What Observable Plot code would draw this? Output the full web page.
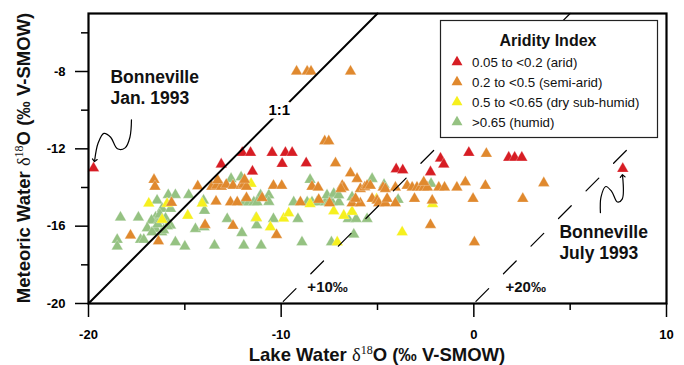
<!DOCTYPE html>
<html>
<head>
<meta charset="utf-8">
<script src="https://cdn.jsdelivr.net/npm/d3@7"></script>
<script src="https://cdn.jsdelivr.net/npm/@observablehq/plot@0.6"></script>
<style>
  html, body { margin: 0; padding: 0; background: white; }
  #chart svg { display: block; }
</style>
</head>
<body>
<div id="chart"></div>
<script>
// ---- Data ----
const categories = ["0.05 to <0.2 (arid)", "0.2 to <0.5 (semi-arid)", "0.5 to <0.65 (dry sub-humid)", ">0.65 (humid)"];
const categoryColors = ["#d71d24", "#e0892e", "#f6f01e", "#95c282"];

const xMajorTicks = [-20, -10, 0, 10];
const xMinorTicks = [-15, -5, 5];
const yMajorTicks = [-20, -16, -12, -8];
const yMinorTicks = [-18, -14, -10, -6];

const arid = [
  [-19.74,-13.0],[-13.11,-12.8],[-12.02,-12.2],[-11.59,-12.2],[-10.47,-12.2],[-9.78,-12.2],[-9.43,-12.2],
  [-9.95,-12.77],[-11.49,-13.17],[-8.7,-12.74],[-4.03,-13.05],[-3.69,-13.1],[-1.73,-12.5],[-1.56,-12.8],
  [-2.25,-13.2],[-0.26,-12.2],[1.81,-12.45],[2.12,-12.45],[2.49,-12.45],[7.73,-13.03]
];
const semiArid = [
  [-9.2,-8.0],[-8.65,-8.0],[-8.45,-8.0],[-6.4,-8.0],
  [-7.74,-11.6],[-7.53,-11.6],
  [-16.6,-13.6],[-16.55,-13.95],[-14.33,-13.93],[-15.69,-14.79],[-17.82,-16.48],[-16.37,-16.78],
  [-13.95,-15.93],[-12.5,-15.97],[-10.24,-16.45],
  [-13.38,-14.72],[-12.63,-14.76],[-12.28,-14.76],[-11.8,-14.54],[-10.99,-14.54],[-9.0,-14.76],
  [-13.6,-13.95],[-13.35,-13.9],[-13.1,-13.95],[-12.85,-13.85],[-12.5,-13.9],[-12.08,-13.9],[-11.95,-13.85],
  [-11.8,-13.95],[-13.3,-13.62],[-11.9,-13.6],
  [-10.4,-13.9],[-9.97,-13.9],
  [-8.4,-13.95],[-8.08,-14.0],
  [-7.18,-12.74],[-6.4,-13.26],[-6.06,-13.55],
  [-6.83,-13.9],[-6.75,-14.0],[-6.9,-14.07],
  [-5.89,-14.07],[-5.66,-13.98],[-5.54,-13.9],[-5.37,-13.9],
  [-4.71,-14.0],[-4.59,-14.07],[-4.07,-14.0],
  [-3.46,-13.9],[-3.2,-14.0],[-2.95,-14.0],[-2.77,-14.0],[-2.6,-14.0],[-2.41,-14.0],[-2.6,-13.72],
  [-1.82,-14.0],[-1.52,-14.0],[-0.88,-14.0],
  [-8.05,-14.63],[-7.49,-14.81],
  [-6.32,-14.81],[-5.89,-14.81],[-6.14,-14.58],
  [-5.28,-14.58],[-5.02,-14.67],[-4.94,-14.81],[-4.59,-14.81],[-4.5,-14.58],[-4.07,-14.81],
  [-3.08,-14.58],[-2.16,-14.67],
  [-0.44,-13.72],[0.6,-13.9],[0.65,-12.25],[-0.04,-14.58],[-2.25,-15.93],[0.03,-16.83],[3.63,-13.77],[2.54,-14.58]
];
const dryHumid = [
  [-16.87,-14.82],[-15.92,-14.84],[-14.1,-14.82],[-14.85,-15.45],[-16.18,-15.66],[-11.56,-13.8],
  [-11.28,-15.57],[-9.87,-15.6],[-9.61,-15.33],[-10.56,-16.05],[-8.5,-14.85],[-7.27,-15.23],
  [-6.75,-15.45],[-6.32,-15.25],[-7.09,-16.83],[-3.72,-16.31],[-5.05,-14.6],[-2.14,-14.85]
];
const humid = [
  [-18.51,-16.7],[-18.51,-17.05],[-18.34,-15.55],[-17.41,-15.55],[-17.3,-16.7],[-17.13,-16.7],[-16.52,-15.55],
  [-15.86,-14.38],[-15.49,-14.38],[-14.8,-14.38],[-16.44,-14.67],[-16.18,-15.1],[-15.74,-15.1],
  [-16.73,-15.7],[-16.35,-15.7],[-15.74,-15.96],[-14.45,-16.14],[-16.95,-16.1],[-16.52,-16.14],
  [-16.2,-16.31],[-16.7,-16.31],[-15.49,-16.83],[-15.0,-17.05],
  [-14.03,-14.67],[-13.98,-15.2],[-14.0,-16.05],
  [-16.3,-15.4],[-16.0,-15.6],[-15.9,-16.0],[-16.1,-16.2],[-16.4,-15.9],
  [-12.8,-15.62],[-12.04,-16.35],[-11.3,-15.57],[-10.4,-15.62],[-11.27,-15.95],[-11.04,-17.0],
  [-11.94,-17.0],[-13.46,-17.0],[-9.13,-15.62],[-8.92,-16.83],
  [-12.6,-13.55],[-12.08,-13.47],
  [-11.07,-14.4],[-10.64,-14.4],[-10.64,-14.74],[-11.94,-14.76],[-11.68,-14.76],[-11.42,-14.76],[-11.25,-14.76],
  [-9.35,-14.76],[-8.5,-13.6],
  [-8.65,-14.76],[-8.4,-14.76],[-8.14,-14.76],[-7.7,-14.76],[-7.53,-14.76],[-7.36,-14.76],[-7.0,-14.76],
  [-7.62,-14.4],[-7.27,-14.32],[-7.01,-14.4],[-6.32,-14.5],
  [-6.52,-15.62],[-6.11,-15.62],[-5.54,-15.62],[-6.23,-16.43],[-7.39,-16.83],
  [-5.28,-13.55],[-4.66,-13.85],[-3.93,-14.63],[-2.22,-13.8]
];

// reference lines (lake = meteoric + offset)
const oneToOne = [[-20,-20],[-5,-5]];
const plus10 = [[-10,-20],[5,-5]];
const plus20 = [[0,-20],[10,-10]];

// annotations
const notes = [
  {x: -18.86, y: -8.78, text: "Bonneville\nJan. 1993"},
  {x: 4.44, y: -16.79, text: "Bonneville\nJuly 1993"}
];
const lineLabels = [
  {x: -8.64, y: -19.17, text: "+10‰"},
  {x: 1.64, y: -19.17, text: "+20‰"}
];
const ratioLabel = [{x: -10.1, y: -10.0, text: "1:1"}];
const janArrow = [[-17.77,-10.5],[-17.85,-11.4],[-18.1,-11.95],[-18.5,-12.0],[-18.85,-11.4],[-19.2,-11.2],[-19.5,-11.7],[-19.68,-12.6]];
const julyArrow = [[6.57,-15.3],[6.6,-14.5],[6.85,-13.95],[7.15,-14.2],[7.45,-14.75],[7.7,-14.6],[7.72,-13.4]];

// ---- Build table (draw order: humid first, arid last) ----
const groups = [humid, dryHumid, semiArid, arid];
const groupCats = [categories[3], categories[2], categories[1], categories[0]];
const points = groups.flatMap((g, i) => g.map(([x, y]) => ({x, y, cat: groupCats[i]})));

const FONT = "'Liberation Sans', Arial, sans-serif";

const chart = Plot.plot({
  width: 684,
  height: 365,
  marginLeft: 88,
  marginRight: 18,
  marginTop: 13,
  marginBottom: 62,
  style: {fontFamily: FONT, background: "white", color: "black"},
  x: {domain: [-20, 10], label: null},
  y: {domain: [-20, -5], label: null},
  color: {domain: categories, range: categoryColors},
  marks: [
    Plot.axisX({ticks: xMajorTicks, tickSize: 14, tickPadding: 12, tickFormat: d => String(d), fontWeight: "bold", fontSize: 13, strokeWidth: 1.5, label: null}),
    Plot.axisX({ticks: xMinorTicks, tickSize: 7, tickFormat: () => "", strokeWidth: 1.5, label: null}),
    Plot.axisY({ticks: yMajorTicks, tickSize: 13, tickPadding: 10, tickFormat: d => String(d), fontWeight: "bold", fontSize: 13, strokeWidth: 1.5, label: null}),
    Plot.axisY({ticks: yMinorTicks, tickSize: 7, tickFormat: () => "", strokeWidth: 1.5, label: null}),
    Plot.dot(points, {x: "x", y: "y", symbol: "triangle", r: 4.3, fill: "cat", stroke: "#ffffff", strokeOpacity: 0.45, strokeWidth: 0.6}),
    Plot.line(oneToOne, {x: d => d[0], y: d => d[1], stroke: "black", strokeWidth: 2}),
    Plot.line(plus10, {x: d => d[0], y: d => d[1], stroke: "black", strokeWidth: 1.2, strokeDasharray: "18,21", strokeDashoffset: -3}),
    Plot.line(plus20, {x: d => d[0], y: d => d[1], stroke: "black", strokeWidth: 1.2, strokeDasharray: "18,21", strokeDashoffset: -3}),
    Plot.text(ratioLabel, {x: "x", y: "y", text: "text", fontWeight: "bold", fontSize: 15, fill: "black", stroke: "white", strokeWidth: 7, paintOrder: "stroke"}),
    Plot.text(notes, {x: "x", y: "y", text: "text", textAnchor: "start", fontWeight: "bold", fontSize: 17.5, lineHeight: 1.2, fill: "#111"}),
    Plot.text(lineLabels, {x: "x", y: "y", text: "text", textAnchor: "start", fontWeight: "bold", fontSize: 15, fill: "#111"}),
    Plot.line(janArrow, {x: d => d[0], y: d => d[1], curve: "catmull-rom", stroke: "black", strokeWidth: 1.2, markerEnd: "arrow"}),
    Plot.line(julyArrow, {x: d => d[0], y: d => d[1], curve: "catmull-rom", stroke: "black", strokeWidth: 1.2, markerEnd: "arrow"}),
    Plot.frame({stroke: "black", strokeWidth: 2.2})
  ]
});

document.getElementById("chart").appendChild(chart);

// ---- Axis titles with delta / superscript ----
const svg = d3.select(chart);
function richLabel(sel, before) {
  sel.append("tspan").text(before);
  sel.append("tspan").attr("font-family", "'Liberation Serif', 'DejaVu Serif', serif").attr("font-weight", "normal").text("δ");
  sel.append("tspan").attr("font-family", "'Liberation Serif', 'DejaVu Serif', serif").attr("font-weight", "normal").attr("font-size", 12).attr("dy", -7).text("18");
  sel.append("tspan").attr("dy", 7).text("O (‰ V-SMOW)");
}
const xl = svg.append("text")
  .attr("x", 377).attr("y", 361)
  .attr("text-anchor", "middle")
  .attr("font-family", FONT).attr("font-weight", "bold").attr("font-size", 18.5).attr("fill", "#111");
richLabel(xl, "Lake Water ");
const yl = svg.append("text")
  .attr("transform", "translate(30,158) rotate(-90)")
  .attr("text-anchor", "middle")
  .attr("font-family", FONT).attr("font-weight", "bold").attr("font-size", 18.5).attr("fill", "#111");
richLabel(yl, "Meteoric Water ");

// ---- Legend ----
const lg = svg.append("g").attr("font-family", FONT).attr("text-anchor", "start");
lg.append("rect").attr("x", 440.5).attr("y", 20.5).attr("width", 217).attr("height", 117)
  .attr("fill", "white").attr("stroke", "#222").attr("stroke-width", 1.2);
lg.append("text").attr("x", 548).attr("y", 46).attr("text-anchor", "middle")
  .attr("font-weight", "bold").attr("font-size", 16).attr("fill", "#111").text("Aridity Index");
const tri = d3.symbol(d3.symbolTriangle, 52)();
categories.forEach((c, i) => {
  const cy = 62 + i * 20;
  lg.append("path").attr("d", tri).attr("transform", `translate(457,${cy})`).attr("fill", categoryColors[i]);
  lg.append("text").attr("x", 472).attr("y", cy + 4.8).attr("text-anchor", "start")
    .attr("font-size", 13.3).attr("fill", "#111").text(c);
});
</script>
</body>
</html>
